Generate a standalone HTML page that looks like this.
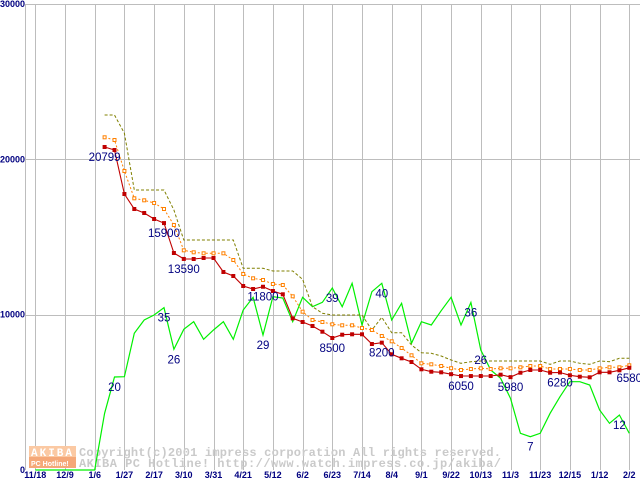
<!DOCTYPE html>
<html><head><meta charset="utf-8"><style>
html,body{margin:0;padding:0;background:#fff;}
#wrap{position:relative;width:640px;height:480px;overflow:hidden;background:#fff;}
svg{position:absolute;left:0;top:0;}
.wm{font-family:"Liberation Mono",monospace;font-weight:bold;fill:#cacaca;font-size:12px;}
.tick{font-family:"Liberation Sans",sans-serif;font-weight:bold;font-size:9px;fill:#000080;}
.lbl{font-family:"Liberation Sans",sans-serif;font-size:11.5px;fill:#000080;}
</style></head><body>
<div id="wrap">
<svg id="chart" width="640" height="480">
  <g id="wm">
    <rect x="29" y="446" width="47" height="11" fill="#fbc9a3"></rect>
    <rect x="29" y="457" width="47" height="11" fill="#f5a878"></rect>
    <text x="31" y="456" font-family="Liberation Mono,monospace" font-weight="bold" font-size="11" fill="#fff" letter-spacing="2">AKIBA</text>
    <text x="31" y="466" font-family="Liberation Sans,sans-serif" font-weight="bold" font-size="7" fill="#fff">PC Hotline!</text>
    <text class="wm" x="79" y="456" textLength="422">Copyright(c)2001 impress corporation All rights reserved.</text>
    <text class="wm" x="79" y="467" textLength="422">AKIBA PC Hotline!  http://www.watch.impress.co.jp/akiba/</text>
  </g>
</svg>
</div>
<script>
const xLabels = ["11/18","12/9","1/6","1/27","2/17","3/10","3/31","4/21","5/12","6/2","6/23","7/14","8/4","9/1","9/22","10/13","11/3","11/23","12/15","1/12","2/2"];
const yTicks = [0,10000,20000,30000];
const N=null;
const minPrice = [N,N,N,N,N,N,N,20799,20605,17772,16806,16549,16162,15900,13973,13590,13587,13651,13651,12750,12492,11848,11655,11800,11526,11314,9768,9530,9272,8905,8500,8712,8738,8738,8113,8200,7450,7192,6954,6484,6330,6290,6170,6050,6050,6053,6053,6137,5980,6265,6440,6440,6265,6280,6098,6008,5969,6291,6291,6420,6580];
const avgPrice = [N,N,N,N,N,N,N,21423,21249,19253,17495,17366,17192,16806,15776,14146,14018,13953,13953,13953,13522,12620,12343,12234,11977,11912,11184,10193,9659,9530,9382,9317,9317,9143,9015,8628,8287,7856,7386,6870,6806,6697,6555,6439,6503,6548,6503,6548,6548,6613,6697,6697,6503,6503,6503,6439,6439,6548,6613,6613,6742];
const maxPrice = [N,N,N,N,N,N,N,22858,22858,21680,18029,18029,18029,18029,16741,14810,14810,14810,14810,14810,14810,12987,12987,12987,12814,12814,12814,12279,10515,10090,9980,9980,9980,9980,9015,9832,8841,8841,8049,7553,7514,7340,7083,6870,6973,7019,7019,7019,7019,7019,7019,7019,6806,7019,7019,6870,6806,7019,6973,7192,7192];
const shopCount = [0,0,0,0,0,0,0,3651,5988,6008,8802,9659,9980,10451,7772,9060,9549,8416,9015,9549,8416,10302,11120,8693,11159,11075,9549,11120,10515,10798,11719,10515,12022,9337,11481,12022,9659,10734,8158,9549,9337,10257,11120,9337,10785,7727,6439,5905,4617,2363,2144,2363,3651,4720,5686,5686,5473,3863,3007,3541,2363];
const priceLabelIdx = [7,13,15,23,30,35,43,48,53,60];
const countLabelIdx = [8,13,14,23,30,35,44,45,50,59];
const countLabelText = ["20","35","26","29","39","40","36","26","7","12"];

const svg=document.getElementById('chart');
const NS='http://www.w3.org/2000/svg';
const X0=35.3, DX=9.9, Y0=470, KY=0.01553;
function xs(i){return X0+i*DX;}
function ys(v){return Y0-v*KY;}
function mk(tag,attrs){const e=document.createElementNS(NS,tag);for(const k in attrs)e.setAttribute(k,attrs[k]);return e;}
const wm=document.getElementById('wm');

const grid=mk('g',{});


svg.insertBefore(grid,wm);
grid.appendChild(mk('line',{x1:25.5,y1:4,x2:25.5,y2:470,stroke:'#bdbdbd','stroke-width':1}));
yTicks.forEach(v=>{
  if(v===0)return;
  const l=mk('line',{x1:25,y1:Math.round(ys(v))+0.5,x2:640,y2:Math.round(ys(v))+0.5,stroke:'#bdbdbd','stroke-width':1});
  
  
  grid.appendChild(l);
});
xLabels.forEach((t,k)=>{
  const x=Math.round(xs(k*3))+0.5;
  const l=mk('line',{x1:x,y1:4,x2:x,y2:470,stroke:'#bdbdbd','stroke-width':1});
  
  
  grid.appendChild(l);
});
xLabels.forEach((t,k)=>{
  const e=mk('text',{x:xs(k*3),y:478,'text-anchor':'middle',class:'tick'});
  e.textContent=t;
  
  
  svg.appendChild(e);
});
yTicks.forEach(v=>{
  const e=mk('text',{x:25,y:ys(v)+3,'text-anchor':'end',class:'tick'});
  e.textContent=String(v);
  
  
  svg.appendChild(e);
});

function pts(arr){const p=[];arr.forEach((v,i)=>{if(v!==null)p.push(xs(i).toFixed(1)+','+ys(v).toFixed(1));});return p.join(' ');}

const g=mk('polyline',{points:pts(shopCount),fill:'none',stroke:'#00f000','stroke-width':1.2});


svg.appendChild(g);
const o=mk('polyline',{points:pts(maxPrice),fill:'none',stroke:'#808000','stroke-width':1,'stroke-dasharray':'3,2'});


svg.appendChild(o);
const a=mk('polyline',{points:pts(avgPrice),fill:'none',stroke:'#ff8000','stroke-width':1,'stroke-dasharray':'2,2'});


svg.appendChild(a);
avgPrice.forEach((v,i)=>{if(v===null)return;
  const r=mk('rect',{x:xs(i)-1.5,y:ys(v)-1.5,width:3,height:3,fill:'#fff',stroke:'#ff8000','stroke-width':1});
  
  
  svg.appendChild(r);});
const rl=mk('polyline',{points:pts(minPrice),fill:'none',stroke:'#c00000','stroke-width':1.1});


svg.appendChild(rl);
minPrice.forEach((v,i)=>{if(v===null)return;
  const r=mk('rect',{x:xs(i)-2,y:ys(v)-2,width:4,height:4,fill:'#c00000'});
  
  
  svg.appendChild(r);});
priceLabelIdx.forEach(i=>{
  const e=mk('text',{x:xs(i),y:ys(minPrice[i])+14,'text-anchor':'middle',class:'lbl'});
  e.textContent=String(minPrice[i]);
  
  
  svg.appendChild(e);
});
countLabelIdx.forEach((i,k)=>{
  const e=mk('text',{x:xs(i),y:ys(shopCount[i])+14,'text-anchor':'middle',class:'lbl'});
  e.textContent=countLabelText[k];
  
  
  svg.appendChild(e);
});
</script>
</body></html>
